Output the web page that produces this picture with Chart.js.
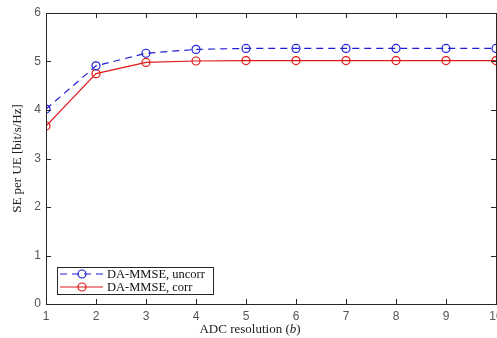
<!DOCTYPE html>
<html><head><meta charset="utf-8">
<script src="https://cdn.jsdelivr.net/npm/chart.js@4/dist/chart.umd.min.js"></script>
<style>html,body{margin:0;padding:0;overflow:hidden;background:#fff}#wrap{width:520px;height:338px}</style>
</head><body><div id="wrap"><canvas id="c" width="520" height="338"></canvas></div>
<script>
const bits = [1,2,3,4,5,6,7,8,9,10];
const seUncorr = [4.02,4.91,5.17,5.25,5.27,5.27,5.27,5.27,5.27,5.27];
const seCorr = [3.67,4.75,4.98,5.01,5.02,5.02,5.02,5.02,5.02,5.02];
const labelUncorr = 'DA-MMSE, uncorr';
const labelCorr = 'DA-MMSE, corr';
const xTitleMain = 'ADC resolution (';
const xTitleVar = 'b';
const xTitleEnd = ')';
const yTitle = 'SE per UE [bit/s/Hz]';
const serif = '"Liberation Serif", "DejaVu Serif", serif';

const boxPlugin = {
  id:'box',
  afterDraw(chart){
    const {ctx, chartArea:a, scales} = chart;
    ctx.save();
    ctx.strokeStyle='#262626'; ctx.lineWidth=1;
    ctx.strokeRect(a.left+0.5,a.top+0.5,a.right-a.left,a.bottom-a.top);
    const L=5;
    ctx.beginPath();
    scales.x.ticks.forEach(t=>{const x=Math.round(scales.x.getPixelForValue(t.value))+0.5;
      ctx.moveTo(x,a.bottom);ctx.lineTo(x,a.bottom-L);ctx.moveTo(x,a.top);ctx.lineTo(x,a.top+L);});
    scales.y.ticks.forEach(t=>{const y=Math.round(scales.y.getPixelForValue(t.value))+0.5;
      ctx.moveTo(a.left,y);ctx.lineTo(a.left+L,y);ctx.moveTo(a.right,y);ctx.lineTo(a.right-L,y);});
    ctx.stroke();
    // x title with italic variable
    ctx.fillStyle='#222';ctx.textBaseline='middle';ctx.textAlign='left';
    const f1='13px '+serif, f2='italic 13px '+serif;
    ctx.font=f1;const w1=ctx.measureText(xTitleMain).width, w3=ctx.measureText(xTitleEnd).width;
    ctx.font=f2;const w2=ctx.measureText(xTitleVar).width;
    let tx=250-(w1+w2+w3)/2; const ty=330;
    ctx.font=f1;ctx.fillText(xTitleMain,tx,ty);tx+=w1;
    ctx.font=f2;ctx.fillText(xTitleVar,tx,ty);tx+=w2;
    ctx.font=f1;ctx.fillText(xTitleEnd,tx,ty);
    // legend
    const lx=57, ly=267, lw=156, lh=27;
    ctx.fillStyle='#fff';ctx.fillRect(lx,ly,lw,lh);
    ctx.strokeStyle='#262626';ctx.strokeRect(lx+0.5,ly+0.5,lw,lh);
    const rows=[[chart.data.datasets[0],274],[chart.data.datasets[1],287]];
    ctx.font='12.5px '+serif;
    rows.forEach(([ds,y])=>{
      ctx.strokeStyle=ds.borderColor;ctx.lineWidth=1.2;
      ctx.setLineDash(ds.borderDash||[]);
      ctx.beginPath();ctx.moveTo(60,y);ctx.lineTo(103,y);ctx.stroke();
      ctx.setLineDash([]);
      ctx.beginPath();ctx.arc(82,y,4,0,Math.PI*2);ctx.stroke();
      ctx.fillStyle='#111';ctx.fillText(ds.label,107,y+0.5);
    });
    ctx.restore();
  }
};

new Chart(document.getElementById('c'),{
  type:'line',
  data:{datasets:[
    {label:labelUncorr,data:bits.map((b,i)=>({x:b,y:seUncorr[i]})),borderColor:'#1f1fd6',borderDash:[7,5],borderWidth:1.2,
     pointStyle:'circle',pointRadius:4,pointBorderWidth:1.2,pointBackgroundColor:'rgba(0,0,0,0)',pointBorderColor:'#1f1fd6',tension:0},
    {label:labelCorr,data:bits.map((b,i)=>({x:b,y:seCorr[i]})),borderColor:'#e01818',borderWidth:1.2,
     pointStyle:'circle',pointRadius:4,pointBorderWidth:1.2,pointBackgroundColor:'rgba(0,0,0,0)',pointBorderColor:'#e01818',tension:0}
  ]},
  options:{
    responsive:false,animation:false,
    layout:{padding:{top:13,right:24,left:0,bottom:0}},
    plugins:{legend:{display:false},tooltip:{enabled:false}},
    scales:{
      x:{type:'linear',min:1,max:10,
        ticks:{stepSize:1,color:'#555',font:{family:'"Liberation Sans", Arial, sans-serif',size:12},padding:5},
        grid:{display:false,drawTicks:false},border:{display:false},
        title:{display:false},
        afterFit(s){s.height=34;}
      },
      y:{min:0,max:6,
        ticks:{stepSize:1,color:'#555',font:{family:'"Liberation Sans", Arial, sans-serif',size:12},padding:5},
        grid:{display:false,drawTicks:false},border:{display:false},
        title:{display:true,text:yTitle,color:'#222',font:{family:serif,size:13},padding:{top:10,bottom:0}},
        afterFit(s){s.width=46;}
      }
    }
  },
  plugins:[boxPlugin]
});
</script></body></html>
